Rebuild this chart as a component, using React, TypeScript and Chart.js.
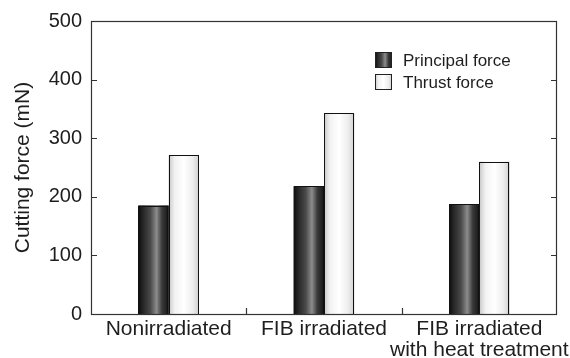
import React, { useEffect, useRef } from 'react';
import { Chart, registerables } from 'chart.js';

Chart.register(...registerables);

const categories: (string | string[])[] = [
  'Nonirradiated',
  'FIB irradiated',
  ['FIB irradiated', 'with heat treatment'],
];
const principalForce = [185, 218, 187];
const thrustForce = [271, 343, 260];
const seriesLabels = ['Principal force', 'Thrust force'];
const yAxisTitle = 'Cutting force (mN)';
const yMin = 0;
const yMax = 500;
const yStep = 100;

const FONT = "'Liberation Sans', Arial, Helvetica, sans-serif";
const TEXT = '#1e1e1e';
const LINE = '#333333';

function darkGradient(ctx: CanvasRenderingContext2D, x0: number, x1: number) {
  const g = ctx.createLinearGradient(x0, 0, x1, 0);
  g.addColorStop(0, '#0c0c0c');
  g.addColorStop(0.15, '#262626');
  g.addColorStop(0.4, '#4a4a4a');
  g.addColorStop(0.6, '#8c8c8c');
  g.addColorStop(0.78, '#3a3a3a');
  g.addColorStop(1, '#161616');
  return g;
}

function lightGradient(ctx: CanvasRenderingContext2D, x0: number, x1: number) {
  const g = ctx.createLinearGradient(x0, 0, x1, 0);
  g.addColorStop(0, '#c8c8c8');
  g.addColorStop(0.2, '#f2f2f2');
  g.addColorStop(0.5, '#ffffff');
  g.addColorStop(0.8, '#ededed');
  g.addColorStop(1, '#cfcfcf');
  return g;
}

const gradients = [darkGradient, lightGradient];

const shadePlugin = {
  id: 'shadeBars',
  afterDatasetDraw(chart: any, args: any) {
    const ctx: CanvasRenderingContext2D = chart.ctx;
    const meta = args.meta;
    const gradFn = gradients[args.index % gradients.length];
    ctx.save();
    meta.data.forEach((el: any) => {
      const { x, y, base, width } = el.getProps(['x', 'y', 'base', 'width'], true);
      const left = x - width / 2;
      const right = x + width / 2;
      const top = Math.min(y, base);
      const h = Math.abs(base - y);
      ctx.fillStyle = gradFn(ctx, left, right);
      ctx.fillRect(left, top, width, h);
      ctx.strokeStyle = '#111';
      ctx.lineWidth = 1;
      ctx.strokeRect(Math.round(left) + 0.5, Math.round(top) + 0.5, Math.round(width) - 1, Math.round(h));
    });
    ctx.restore();
  },
};

const framePlugin = {
  id: 'frame',
  afterDraw(chart: any) {
    const ctx: CanvasRenderingContext2D = chart.ctx;
    const { left, right, top, bottom } = chart.chartArea;
    const ys = chart.scales.y;
    const xs = chart.scales.x;
    ctx.save();
    ctx.strokeStyle = LINE;
    ctx.lineWidth = 1.2;
    ctx.strokeRect(left + 0.5, top + 0.5, right - left - 1, bottom - top);
    const tl = 6;
    ys.ticks.forEach((t: any) => {
      const py = Math.round(ys.getPixelForValue(t.value)) + 0.5;
      ctx.beginPath();
      ctx.moveTo(left, py);
      ctx.lineTo(left + tl, py);
      ctx.moveTo(right, py);
      ctx.lineTo(right - tl, py);
      ctx.stroke();
    });
    for (let i = 1; i < categories.length; i++) {
      const px = Math.round((xs.getPixelForValue(i - 1) + xs.getPixelForValue(i)) / 2) + 0.5;
      ctx.beginPath();
      ctx.moveTo(px, bottom);
      ctx.lineTo(px, bottom - tl);
      ctx.stroke();
    }
    ctx.restore();
  },
};

const legendPlugin = {
  id: 'insideLegend',
  afterDraw(chart: any) {
    const ctx: CanvasRenderingContext2D = chart.ctx;
    const bx = 375;
    const by0 = 52;
    const bw = 17;
    const bh = 16;
    const gap = 22;
    ctx.save();
    ctx.font = `17px ${FONT}`;
    ctx.textBaseline = 'middle';
    ctx.textAlign = 'left';
    chart.data.datasets.forEach((ds: any, i: number) => {
      const by = by0 + i * gap;
      ctx.fillStyle = gradients[i](ctx, bx, bx + bw);
      ctx.fillRect(bx, by, bw, bh);
      ctx.strokeStyle = '#222';
      ctx.lineWidth = 1;
      ctx.strokeRect(bx + 0.5, by + 0.5, bw - 1, bh - 1);
      ctx.fillStyle = TEXT;
      ctx.fillText(ds.label, bx + bw + 11, by + bh / 2 + 1);
    });
    ctx.restore();
  },
};

export default function App() {
  const canvasRef = useRef<HTMLCanvasElement | null>(null);

  useEffect(() => {
    const canvas = canvasRef.current;
    if (!canvas) return;
    const chart = new Chart(canvas, {
      type: 'bar',
      data: {
        labels: categories as any,
        datasets: [
          {
            label: seriesLabels[0],
            data: principalForce,
            backgroundColor: '#333',
            borderColor: '#111',
            borderWidth: 0,
            barPercentage: 1,
            categoryPercentage: 0.39,
          },
          {
            label: seriesLabels[1],
            data: thrustForce,
            backgroundColor: '#eee',
            borderColor: '#111',
            borderWidth: 0,
            barPercentage: 1,
            categoryPercentage: 0.39,
          },
        ],
      },
      options: {
        responsive: false,
        maintainAspectRatio: false,
        animation: false,
        devicePixelRatio: 1,
        layout: { padding: { left: 11, right: 13, top: 21, bottom: 0 } },
        plugins: {
          legend: { display: false },
          tooltip: { enabled: false },
        },
        scales: {
          x: {
            offset: true,
            grid: { display: false, drawTicks: false },
            border: { display: false },
            ticks: {
              color: TEXT,
              font: { family: FONT, size: 21, lineHeight: 1.0 },
              padding: 5,
              maxRotation: 0,
              autoSkip: false,
            },
            afterFit(scale: any) {
              scale.height = 44;
              scale.paddingLeft = 0;
              scale.paddingRight = 0;
            },
          },
          y: {
            min: yMin,
            max: yMax,
            grid: { display: false, drawTicks: false },
            border: { display: false },
            ticks: {
              stepSize: yStep,
              color: TEXT,
              font: { family: FONT, size: 20 },
              padding: 9,
            },
            title: {
              display: true,
              text: yAxisTitle,
              color: TEXT,
              font: { family: FONT, size: 21 },
              padding: { top: 0, bottom: 0 },
            },
            afterFit(scale: any) {
              scale.width = 80;
            },
          },
        },
      },
      plugins: [shadePlugin, framePlugin, legendPlugin],
    });
    return () => chart.destroy();
  }, []);

  return (
    <div style={{ position: 'absolute', left: 0, top: 0, width: 570, height: 358, background: '#fff' }}>
      <canvas ref={canvasRef} width={570} height={358} style={{ display: 'block' }} />
    </div>
  );
}
